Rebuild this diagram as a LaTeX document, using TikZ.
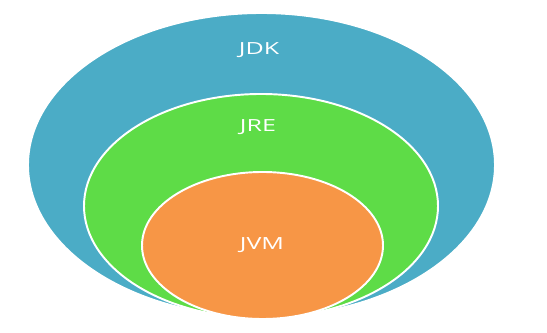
\documentclass[tikz,border=0pt]{standalone}
\usepackage{fontspec}
\setmainfont{Open Sans}
\newfontfamily\tagfont[FakeStretch=1.5]{Open Sans}
\usepackage{xcolor}
\usepackage{tikz}
\usetikzlibrary{positioning}
\definecolor{jdkblue}{HTML}{4BACC6}
\definecolor{jregreen}{HTML}{5EDC47}
\definecolor{jvmorange}{HTML}{F79646}

\begin{document}
\begin{tikzpicture}[x=0.02cm, y=-0.02cm,
    layer/.style={draw=white, line width=1.1pt},
    tag/.style={text=white, font=\tagfont\fontsize{9.5}{11}\selectfont}]
            \useasboundingbox (0,0) rectangle (547,333);
            % nested layers, all touching at the bottom
            \filldraw[layer, fill=jdkblue] (261.5,165) ellipse [x radius=233.5, y radius=152];
            \filldraw[layer, fill=jregreen] (261,206) ellipse [x radius=177, y radius=112];
            \filldraw[layer, fill=jvmorange] (262.5,245.5) ellipse [x radius=120.5, y radius=73.5];
            \node[tag] (jdk) at (259,50) {JDK};
            \node[tag] (jre) at (258,127) {JRE};
            \node[tag] (jvm) at (262,245) {JVM};
        \end{tikzpicture}
\end{document}
